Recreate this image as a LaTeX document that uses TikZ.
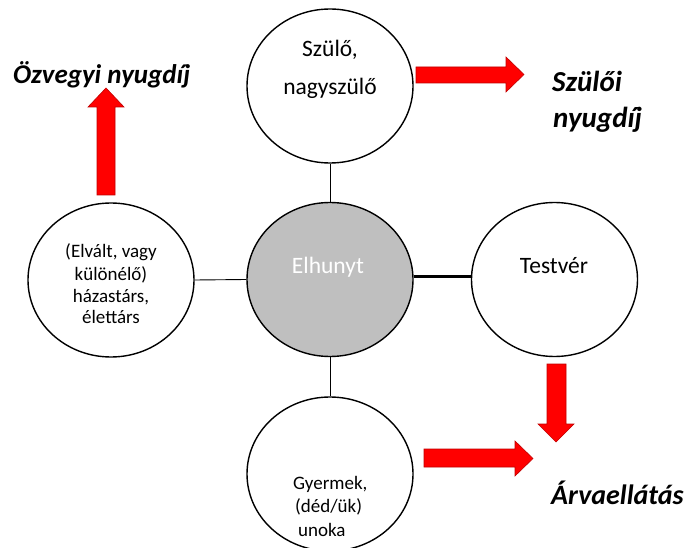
\documentclass[tikz,border=0pt]{standalone}
\usepackage{fontspec}
\setmainfont{Carlito}
\usetikzlibrary{shapes.geometric}
\definecolor{arrred}{HTML}{FF0000}
\definecolor{arredge}{HTML}{C00000}
\definecolor{elhgray}{HTML}{BFBFBF}
\tikzset{
  circ/.style={ellipse, draw=black, line width=1.4pt, fill=white, minimum width=166pt, minimum height=154pt, inner sep=0pt},
  bigtxt/.style={font=\fontsize{23.5}{28}\selectfont, anchor=base, inner sep=0pt},
  smalltxt/.style={font=\fontsize{19}{23}\selectfont, anchor=base, inner sep=0pt},
  labeltxt/.style={font=\fontsize{28}{33}\selectfont\bfseries\itshape, anchor=base west, inner sep=0pt},
  redarrow/.style={fill=arrred, draw=arredge, line width=0.6pt, line join=miter},
  conn/.style={draw=black, line width=0.9pt}
}
\begin{document}
\begin{tikzpicture}[x=1pt,y=-1pt]
\useasboundingbox (0,0) rectangle (688,548);
\node[circ] (top) at (330,86) {};
\node[circ, fill=elhgray] (elh) at (330,279.5) {};
\node[circ] (left) at (111,280) {};
\node[circ] (test) at (554.5,279.5) {};
\node[circ] (kid) at (330,474) {};
\draw[conn] (top.south) -- (elh.north);
\draw[conn] (left.east) -- (elh.west);
\draw[conn] (elh.south) -- (kid.north);
\draw[draw=black, line width=3pt] ([yshift=3pt]elh.east) -- ([yshift=3pt]test.west);
% texts in circles
\node[bigtxt] (t1) at (330,57) {Szülő,};
\node[bigtxt] (t2) at (330,95) {nagyszülő};
\node[bigtxt, text=white] (te) at (328,273) {Elhunyt};
\node[bigtxt] (tt) at (554,273) {Testvér};
\node[smalltxt] (l1) at (111,257) {(Elvált, vagy};
\node[smalltxt] (l2) at (111,280) {különélő)};
\node[smalltxt] (l3) at (111,302) {házastárs,};
\node[smalltxt] (l4) at (111,323) {élettárs};
\node[smalltxt, anchor=base west] (k1) at (293,489) {Gyermek,};
\node[smalltxt, anchor=base west] (k2) at (295,512) {(déd/ük)};
\node[smalltxt, anchor=base west] (k3) at (298,536) {unoka};
% red arrows
\draw[redarrow] (97,195) -- (97,107) -- (88,107) -- (106,88) -- (124,107) -- (115,107) -- (115,195) -- cycle;
\draw[redarrow] (416,67) -- (506,67) -- (506,57) -- (524,74.5) -- (506,92) -- (506,83) -- (416,83) -- cycle;
\draw[redarrow] (547,364) -- (566,364) -- (566,424) -- (574,424) -- (556,442) -- (538,424) -- (547,424) -- cycle;
\draw[redarrow] (424,449) -- (515,449) -- (515,441) -- (533,458.5) -- (515,476) -- (515,467) -- (424,467) -- cycle;
% labels
\node[labeltxt, font=\fontsize{27}{32}\selectfont\bfseries\itshape] (oz) at (13,84) {Özvegyi nyugdíj};
\node[labeltxt, font=\fontsize{29}{34}\selectfont\bfseries\itshape] (sz1) at (552,92) {Szülői};
\node[labeltxt, font=\fontsize{29}{34}\selectfont\bfseries\itshape] (sz2) at (553,128) {nyugdíj};
\node[labeltxt] (arv) at (551,504) {Árvaellátás};
\end{tikzpicture}
\end{document}
